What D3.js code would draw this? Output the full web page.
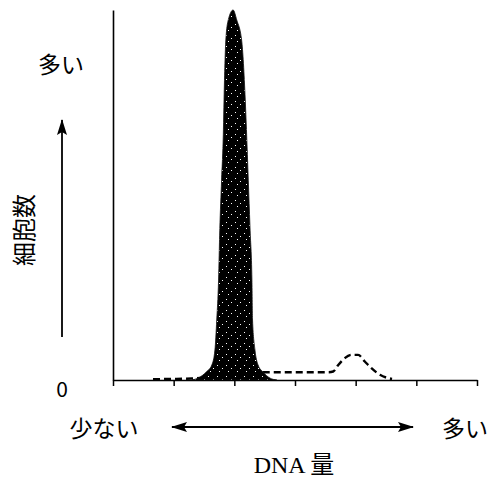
<!DOCTYPE html>
<html><head><meta charset="utf-8">
<script src="https://cdn.jsdelivr.net/npm/d3@7"></script>
<style>html,body{margin:0;padding:0;background:#fff;}</style>
</head><body>
<svg id="c" width="492" height="486"></svg>
<script>
// DNA amount (arbitrary units, tick = 1) vs. cell count (% of max)
const xTicks = [0, 1, 2, 3, 4, 5, 6];
const peakDNA   = [1.30, 1.40, 1.54, 1.63, 1.68, 1.71, 1.74, 1.76, 1.79, 1.82, 1.83, 1.86, 1.90, 1.98, 2.04, 2.12, 2.18, 2.20, 2.23, 2.26, 2.29, 2.30, 2.34, 2.39, 2.47, 2.59, 2.70];
const peakCount = [0,    0.5,  2.2,  4.1,  8.1,  16.2, 27,   40.5, 54,   67.6, 75.7, 91.9, 97.3, 100,  97.3, 91.9, 75.7, 67.6, 54,   40.5, 27,   16.2, 8.1,  4.1,  2.2,  0.5,  0];
const dashDNA   = [0.66, 1.0, 1.3, 1.5, 2.0, 2.5, 3.0, 3.55, 3.63, 3.71, 3.82, 3.93, 4.04, 4.15, 4.26, 4.40, 4.54, 4.60];
const dashCount = [0.2,  0.3, 0.4, 0.6, 1.5, 2.1, 2.1, 2.1,  2.3,  4.0,  5.9,  6.8,  6.8,  5.0,  3.2,  1.4,  0.5,  0.3];
const labels = {yTop: "多い", yTitle: "細胞数", zero: "0", xLow: "少ない", xHigh: "多い", xTitle: "DNA 量"};

const svg = d3.select("#c");
const x = d3.scaleLinear().domain([0, 6]).range([113, 477]);
const y = d3.scaleLinear().domain([0, 100]).range([380, 10]);

// speckle pattern
const defs = svg.append("defs");
const pat = defs.append("pattern").attr("id","spk").attr("patternUnits","userSpaceOnUse")
  .attr("width",9).attr("height",11);
pat.append("rect").attr("width",9).attr("height",11).attr("fill","#000");
[[1,2],[6,5],[3,8]].forEach(p=>pat.append("rect").attr("x",p[0]).attr("y",p[1]).attr("width",1).attr("height",1).attr("fill","#fff"));

defs.append("marker").attr("id","ah").attr("viewBox","0 0 16 10").attr("refX",15).attr("refY",5)
  .attr("markerWidth",16).attr("markerHeight",10).attr("markerUnits","userSpaceOnUse").attr("orient","auto-start-reverse")
  .append("path").attr("d","M0,0 L16,5 L0,10 L3,5 Z").attr("fill","#000");

// dashed distribution (under peak)
const dashData = dashDNA.map((d,i)=>[d, dashCount[i]]);
svg.append("path").datum(dashData)
  .attr("d", d3.line().x(d=>x(d[0])).y(d=>y(d[1])).curve(d3.curveMonotoneX))
  .attr("fill","none").attr("stroke","#000").attr("stroke-width",2.4).attr("stroke-dasharray","7,4");

// main peak
const peakData = peakDNA.map((d,i)=>[d, peakCount[i]]);
svg.append("path").datum(peakData)
  .attr("d", d3.area().x(d=>x(d[0])).y0(y(0)).y1(d=>y(d[1])).curve(d3.curveMonotoneX))
  .attr("fill","url(#spk)").attr("stroke","#111").attr("stroke-width",0.8);

// axes
const gx = svg.append("g").attr("transform",`translate(0,${y(0)})`)
  .call(d3.axisBottom(x).tickValues(xTicks).tickSize(6).tickSizeOuter(0).tickFormat(""));
gx.selectAll("path,line").attr("stroke","#000").attr("stroke-width",1.5);
const gy = svg.append("g").attr("transform",`translate(${x(0)},0)`)
  .call(d3.axisLeft(y).tickValues([]).tickSizeOuter(0));
gy.selectAll("path").attr("stroke","#000").attr("stroke-width",1.6);

// arrows
svg.append("line").attr("x1",62).attr("y1",337).attr("x2",62).attr("y2",120)
  .attr("stroke","#000").attr("stroke-width",1.8).attr("marker-end","url(#ah)");
svg.append("line").attr("x1",172).attr("y1",427).attr("x2",413).attr("y2",427)
  .attr("stroke","#000").attr("stroke-width",1.8).attr("marker-end","url(#ah)").attr("marker-start","url(#ah)");

const jp = "'Noto Sans CJK JP', sans-serif";
function txt(t, cx, cy, size, fam, rot){
  const e = svg.append("text").attr("x",cx).attr("y",cy).attr("text-anchor","middle")
    .attr("dominant-baseline","central").attr("font-family",fam).attr("font-size",size).attr("fill","#000").text(t);
  if(rot) e.attr("transform",`rotate(${rot},${cx},${cy})`);
  return e;
}
txt(labels.yTop, 61, 63, 23, jp);
txt(labels.yTitle, 22, 230, 24, jp, -90);
txt(labels.zero, 62, 388, 21, jp);
txt(labels.xLow, 104, 427, 23, jp);
txt(labels.xHigh, 465, 427, 23, jp);
txt(labels.xTitle, 294, 465, 24, "'Liberation Serif','Noto Sans CJK JP',serif");
</script>
</body></html>
